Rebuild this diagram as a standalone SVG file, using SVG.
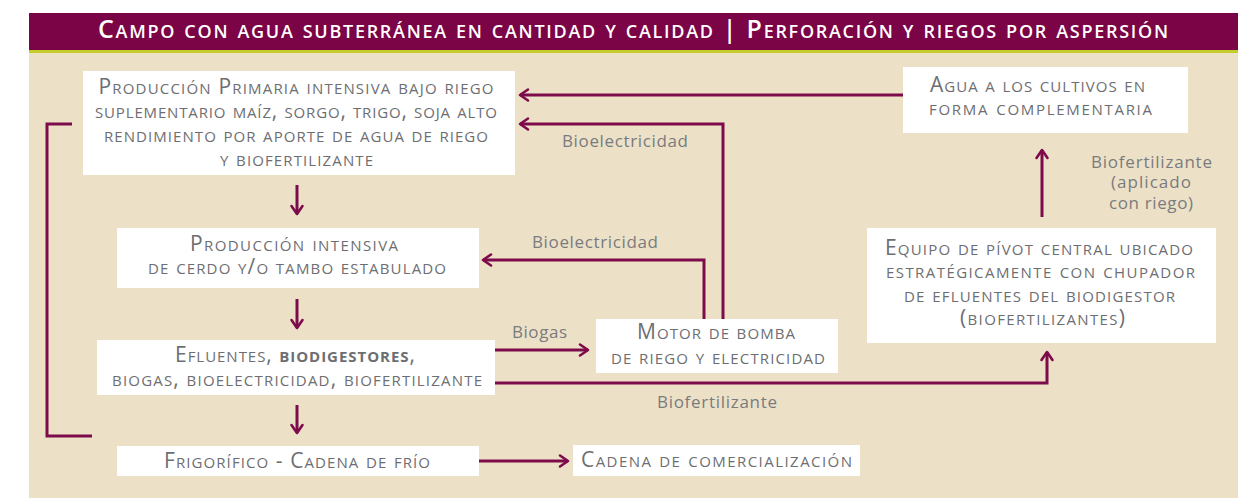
<svg xmlns="http://www.w3.org/2000/svg" width="1247" height="498" viewBox="0 0 1247 498">
<style>
.t{font-family:"Open Sans","Noto Sans",sans-serif;font-variant:small-caps;fill:#6d6e71;font-size:21px;text-anchor:middle}
.lbl{font-family:"Open Sans","Noto Sans",sans-serif;fill:#7a7b7e;font-size:17px;text-anchor:middle}
.title{font-family:"Open Sans","Noto Sans",sans-serif;font-variant:small-caps;fill:#ffffff;font-size:25px;font-weight:600;text-anchor:middle}
.box{fill:#ffffff}
.ln{fill:none;stroke:#7d0a4b;stroke-width:3}
.arr{marker-end:url(#ah)}
</style>
<defs>
<marker id="ah" markerUnits="userSpaceOnUse" markerWidth="14" markerHeight="16" viewBox="0 0 14 16" refX="11" refY="8" orient="auto">
<path d="M3,2.5 L11,8 L3,13.5" fill="none" stroke="#7d0a4b" stroke-width="2.6" stroke-linecap="round" stroke-linejoin="round"/>
</marker>
</defs>
<rect x="29" y="13" width="1209" height="37" fill="#7b0446"/>
<rect x="29" y="50" width="1209" height="3" fill="#c3cc2c"/>
<rect x="29" y="53" width="1209" height="445" fill="#ece1c7"/>
<text class="title" x="633" y="38" textLength="1070">Campo con agua subterránea en cantidad y calidad | Perforación y riegos por aspersión</text>

<g id="connectors">
<path class="ln arr" d="M903,95 H520"/>
<path class="ln arr" d="M723,319 V124 H520"/>
<path class="ln arr" d="M704,319 V260 H483"/>
<path class="ln arr" d="M495,350 H588"/>
<path class="ln arr" d="M495,383 H1047 V352"/>
<path class="ln arr" d="M1042,217 V150"/>
<path class="ln arr" d="M297,185 V214"/>
<path class="ln arr" d="M297,299 V328"/>
<path class="ln arr" d="M297,405 V433"/>
<path class="ln arr" d="M479,461 H568"/>
<path class="ln" d="M72,124 H47 V436 H92"/>
<text class="lbl" x="625" y="147" textLength="126">Bioelectricidad</text>
<text class="lbl" x="595" y="248" textLength="126">Bioelectricidad</text>
<text class="lbl" x="539.5" y="338" textLength="55">Biogas</text>
<text class="lbl" x="717" y="408" textLength="120">Biofertilizante</text>
<text class="lbl"><tspan x="1151.5" y="168" textLength="121">Biofertilizante</tspan><tspan x="1151" y="188" textLength="80">(aplicado</tspan><tspan x="1151" y="209" textLength="84">con riego)</tspan></text>
</g>

<g id="n1">
<rect class="box" x="83" y="71" width="432" height="104"/>
<text class="t"><tspan x="296" y="94" textLength="395">Producción Primaria intensiva bajo riego</tspan><tspan x="296" y="118" textLength="402">suplementario maíz, sorgo, trigo, soja alto</tspan><tspan x="296" y="142" textLength="384">rendimiento por aporte de agua de riego</tspan><tspan x="296.5" y="166" textLength="153">y biofertilizante</tspan></text>
</g>

<g id="n2">
<rect class="box" x="117" y="228" width="362" height="60"/>
<text class="t"><tspan x="294" y="251" textLength="208">Producción intensiva</tspan><tspan x="297" y="274" textLength="298">de cerdo y/o tambo estabulado</tspan></text>
</g>

<g id="n3">
<rect class="box" x="97" y="340" width="398" height="55"/>
<text class="t"><tspan x="295" y="362" textLength="240">Efluentes, <tspan font-weight="bold">biodigestores</tspan>,</tspan><tspan x="297" y="386" textLength="370">biogas, bioelectricidad, biofertilizante</tspan></text>
</g>

<g id="n4">
<rect class="box" x="117" y="446" width="362" height="30"/>
<text class="t" x="297" y="468" textLength="266">Frigorífico - Cadena de frío</text>
</g>

<g id="n5">
<rect class="box" x="573" y="445" width="287" height="31"/>
<text class="t" x="716.5" y="467" textLength="271">Cadena de comercialización</text>
</g>

<g id="n6">
<rect class="box" x="596" y="319" width="242" height="54"/>
<text class="t"><tspan x="716" y="339" textLength="158">Motor de bomba</tspan><tspan x="718" y="364" textLength="214">de riego y electricidad</tspan></text>
</g>

<g id="n7">
<rect class="box" x="903" y="67" width="285" height="66"/>
<text class="t"><tspan x="1037.5" y="92" textLength="215">Agua a los cultivos en</tspan><tspan x="1040.5" y="115" textLength="223">forma complementaria</tspan></text>
</g>

<g id="n8">
<rect class="box" x="867" y="228" width="349" height="115"/>
<text class="t"><tspan x="1039" y="255" textLength="308">Equipo de pívot central ubicado</tspan><tspan x="1040.5" y="278" textLength="309">estratégicamente con chupador</tspan><tspan x="1039.5" y="302" textLength="271">de efluentes del biodigestor</tspan><tspan x="1042.5" y="325" textLength="165">(biofertilizantes)</tspan></text>
</g>
</svg>
